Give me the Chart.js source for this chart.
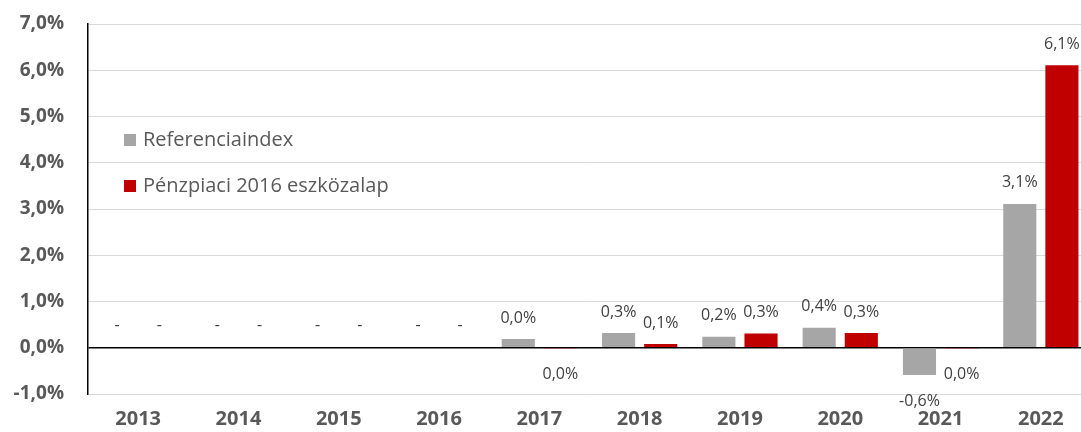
<!DOCTYPE html>
<html>
<head>
<meta charset="utf-8">
<script src="https://cdn.jsdelivr.net/npm/chart.js@4"></script>
<style>
  html, body { margin: 0; padding: 0; background: #fff; overflow: hidden; }
  #wrap { width: 1092px; height: 432px; }
</style>
</head>
<body>
<div id="wrap"><canvas id="c"></canvas></div>
<script>
"use strict";

const YEARS = ["2013", "2014", "2015", "2016", "2017", "2018", "2019", "2020", "2021", "2022"];
// values in percent; null = no data ("-")
const REF = [null, null, null, null, 0.19, 0.32, 0.24, 0.43, -0.59, 3.11];
const FUND = [null, null, null, null, -0.01, 0.08, 0.31, 0.32, -0.01, 6.11];
// data labels as printed on the chart
const REF_LABELS = ["-", "-", "-", "-", "0,0%", "0,3%", "0,2%", "0,4%", "-0,6%", "3,1%"];
const FUND_LABELS = ["-", "-", "-", "-", "0,0%", "0,1%", "0,3%", "0,3%", "0,0%", "6,1%"];
const Y_TICKS = { min: -1, max: 7, step: 1 };

const FONT = "'Open Sans', 'DejaVu Sans', sans-serif";
const TXT = "#595959";

const pct = (v) => v.toFixed(1).replace(".", ",") + "%";

/* value labels above/below each bar, "-" for missing years */
const barLabels = {
  id: "barLabels",
  afterDatasetsDraw(chart) {
    const { ctx } = chart;
    const y = chart.scales.y;
    const zero = y.getPixelForValue(0);
    ctx.save();
    ctx.font = "16px " + FONT;
    ctx.fillStyle = "#404040";
    ctx.textAlign = "center";
    ctx.textBaseline = "middle";
    chart.data.datasets.forEach((ds, di) => {
      chart.getDatasetMeta(di).data.forEach((el, i) => {
        const v = ds.data[i];
        const txt = ds.labels[i];
        if (v == null) { ctx.fillText(txt, el.x, zero - 22); return; }
        const end = y.getPixelForValue(v);
        ctx.fillText(txt, el.x, v >= 0 ? end - 21 : end + 26);
      });
    });
    ctx.restore();
  }
};

/* legend drawn inside the plot, top-left */
const innerLegend = {
  id: "innerLegend",
  afterDraw(chart) {
    const { ctx } = chart;
    ctx.save();
    ctx.font = "20px " + FONT;
    ctx.textBaseline = "middle";
    chart.data.datasets.forEach((ds, i) => {
      const cy = 140 + i * 46;
      ctx.fillStyle = ds.backgroundColor;
      ctx.fillRect(124, cy - 6, 12, 12);
      ctx.fillStyle = TXT;
      ctx.fillText(ds.label, 143, cy);
    });
    ctx.restore();
  }
};

new Chart(document.getElementById("c"), {
  type: "bar",
  data: {
    labels: YEARS,
    datasets: [
      { label: "Referenciaindex", data: REF, labels: REF_LABELS,
        backgroundColor: "#A6A6A6" },
      { label: "Pénzpiaci 2016 eszközalap", data: FUND, labels: FUND_LABELS,
        backgroundColor: "#C00000" },
    ],
  },
  options: {
    responsive: true,
    maintainAspectRatio: false,
    animation: false,
    events: [],
    layout: { padding: { top: 24, right: 1, bottom: 0, left: 0 } },
    datasets: { bar: { categoryPercentage: 0.84, barPercentage: 0.786 } },
    plugins: { legend: { display: false }, tooltip: { enabled: false } },
    scales: {
      x: {
        grid: { display: false },
        border: { display: false },
        ticks: { color: TXT, font: { family: FONT, size: 20, weight: "bold" },
                 padding: 5, maxRotation: 0 },
        afterFit: (s) => { s.height = 38; },
      },
      y: {
        min: Y_TICKS.min, max: Y_TICKS.max,
        ticks: { stepSize: Y_TICKS.step, callback: (v) => pct(v),
                 color: TXT, font: { family: FONT, size: 19, weight: "bold" },
                 padding: 24 },
        grid: {
          drawTicks: false,
          color: (c) => c.tick && c.tick.value === 0 ? "#000" : "#D9D9D9",
          lineWidth: (c) => c.tick && c.tick.value === 0 ? 1.5 : 1,
        },
        border: { color: "#000", width: 1.5 },
        afterFit: (s) => { s.width = 88; s.paddingTop = 0; s.paddingBottom = 0; },
      },
    },
  },
  plugins: [barLabels, innerLegend],
});
</script>
</body>
</html>
